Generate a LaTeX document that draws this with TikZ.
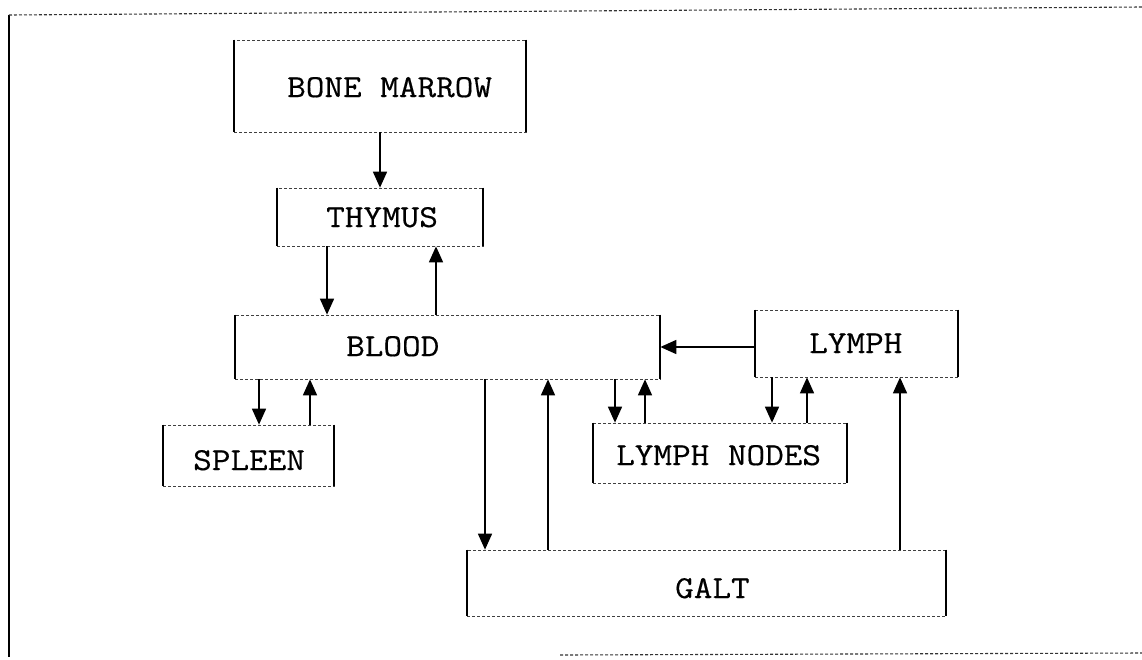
\documentclass[tikz,border=0pt]{standalone}
\usepackage{fontspec}
\newfontfamily\diagfont{lmmono12-regular.otf}[FakeStretch=1.13,FakeBold=0.4]
\usetikzlibrary{arrows.meta}
\begin{document}
\begin{tikzpicture}[x=1pt,y=-1pt,
  box/.style={draw=black!75, line width=0.7pt, densely dashed, minimum width=#1, inner sep=0pt},
  side/.style={draw=black, line width=2.2pt},
  txt/.style={anchor=base west, inner sep=0pt, font=\diagfont\fontsize{32}{32}\selectfont},
  arr/.style={draw=black, line width=1.6pt, -{Triangle[length=16pt,width=14pt]}},
  frame/.style={draw=black, line width=1.8pt}]
\useasboundingbox[fill=white] (0,0) rectangle (1142,659);

% outer frame
\coordinate (f1) at (9,15);
\coordinate (f2) at (9,657);
\coordinate (f3) at (1142,7);
\coordinate (f4) at (560,655);
\coordinate (f5) at (1142,653);
\draw[frame] (f1) -- (f2);
\draw[black!80, line width=1.1pt, densely dashed] (f1) -- (f3);
\draw[black!80, line width=1.1pt, densely dashed] (f4) -- (f5);

% boxes
\node[box=292pt, minimum height=92pt] (bm) at (380,86) {};
\node[box=206pt, minimum height=58pt] (thy) at (380,217) {};
\node[box=425pt, minimum height=64pt] (blood) at (447.5,347) {};
\node[box=203pt, minimum height=67pt] (lymph) at (856.5,343.5) {};
\node[box=171pt, minimum height=61pt] (spleen) at (248.5,455.5) {};
\node[box=254pt, minimum height=60pt] (ln) at (720,453) {};
\node[box=479pt, minimum height=66pt] (galt) at (706.5,583) {};

\foreach \n in {bm,thy,blood,lymph,spleen,ln,galt}{
  \draw[side] (\n.north west) -- (\n.south west);
  \draw[side] (\n.north east) -- (\n.south east);
}

% labels
\node[txt] (tbm) at (287,97) {BONE MARROW};
\node[txt] (tthy) at (326,227) {THYMUS};
\node[txt] (tblood) at (346,356) {BLOOD};
\node[txt] (tlymph) at (809,353) {LYMPH};
\node[txt] (tspleen) at (193,470) {SPLEEN};
\node[txt] (tln) at (616,465) {LYMPH NODES};
\node[txt] (tgalt) at (675,598) {GALT};

% connectors
\draw[arr] (bm.south) -- (thy.north);
\draw[arr] ([xshift=-53pt]thy.south) -- ([xshift=-53pt]thy.south |- blood.north);
\draw[arr] ([xshift=56pt]thy.south |- blood.north) -- ([xshift=56pt]thy.south);

\draw[arr] ([xshift=10.5pt]spleen.north |- blood.south) -- ([xshift=10.5pt]spleen.north);
\draw[arr] ([xshift=61.5pt]spleen.north) -- ([xshift=61.5pt]spleen.north |- blood.south);

\draw[arr] ([xshift=-221.5pt]galt.north |- blood.south) -- ([xshift=-221.5pt]galt.north);
\draw[arr] ([xshift=-158.5pt]galt.north) -- ([xshift=-158.5pt]galt.north |- blood.south);

\draw[arr] ([xshift=-105pt]ln.north |- blood.south) -- ([xshift=-105pt]ln.north);
\draw[arr] ([xshift=-75pt]ln.north) -- ([xshift=-75pt]ln.north |- blood.south);

\draw[arr] ([xshift=52pt]ln.north |- lymph.south) -- ([xshift=52pt]ln.north);
\draw[arr] ([xshift=87pt]ln.north) -- ([xshift=87pt]ln.north |- lymph.south);

\draw[arr] ([xshift=193.5pt]galt.north) -- ([xshift=193.5pt]galt.north |- lymph.south);

\draw[arr] ([yshift=-3.5pt]lymph.west) -- ([yshift=-3.5pt]lymph.west -| blood.east);
\end{tikzpicture}
\end{document}
